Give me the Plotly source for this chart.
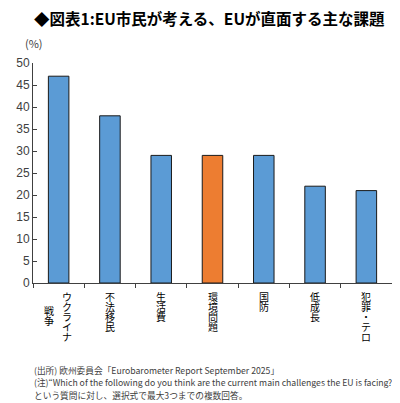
import plotly.graph_objects as go

# データ
categories = ["ウクライナ戦争", "不法移民", "生活費", "環境問題", "国防", "低成長", "犯罪・テロ"]
values = [47, 38, 29, 29, 29, 22, 21]
bar_colors = ["#5B9BD5", "#5B9BD5", "#5B9BD5", "#ED7D31", "#5B9BD5", "#5B9BD5", "#5B9BD5"]
# 縦書きラベル（右の列から順に）
label_columns = [["ウクライナ", "戦争"], ["不法移民"], ["生活費"], ["環境問題"],
                 ["国防"], ["低成長"], ["犯罪・テロ"]]
y_ticks = [0, 5, 10, 15, 20, 25, 30, 35, 40, 45, 50]

title = "<b>◆図表1:EU市民が考える、EUが直面する主な課題</b>"
notes = [
    "(出所) 欧州委員会「Eurobarometer Report September 2025」",
    "(注)“Which of the following do you think are the current main challenges the EU is facing?”",
    "という質問に対し、選択式で最大3つまでの複数回答。",
]

JP = "Noto Sans CJK JP"

# ページ本体の余白(8px)を差し引いたサイズ
W, H = 392, 395
L, R, T, B = 23, 8, 55, 120
PW, PH = W - L - R, H - T - B


def px(x, y):
    """ページ上のピクセル位置(基準画像)を paper 座標へ"""
    return (x - 8 - L) / PW, 1 - (y - 8 - T) / PH


fig = go.Figure()
fig.add_bar(
    x=categories, y=values, width=0.4,
    marker=dict(color=bar_colors, line=dict(color="#1a1a1a", width=1)),
)

# 縦書きのカテゴリラベル（1文字ずつ）
for cat, cols in zip(categories, label_columns):
    offsets = [(0, 0)] if len(cols) == 1 else [(8.5, 0), (-10, 14)]
    for (dx, dy), text in zip(offsets, cols):
        for i, ch in enumerate(text):
            fig.add_annotation(
                x=cat, xref="x", y=0, yref="paper", text=ch, showarrow=False,
                xanchor="center", yanchor="middle", xshift=dx,
                yshift=-(13.5 + dy + 10 * i),
                font=dict(family=JP, size=10, color="#000000"),
            )

# タイトル（上端で切れないよう少し下げる）
tx, ty = px(208, 17.5)
fig.add_annotation(
    x=tx, xref="paper", y=ty, yref="paper", text=title, showarrow=False,
    xanchor="center", yanchor="middle",
    font=dict(family=JP, size=15.5, color="#000000"),
)
# 単位
ux, uy = px(32, 43)
fig.add_annotation(
    x=ux, xref="paper", y=uy, yref="paper", text="(%)", showarrow=False,
    xanchor="center", yanchor="middle",
    font=dict(family=JP, size=11, color="#404040"),
)
# 注記
for k, line in enumerate(notes):
    nx, ny = px(30, 370 + 12.5 * k)
    fig.add_annotation(
        x=nx, xref="paper", y=ny, yref="paper", text=line, showarrow=False,
        xanchor="left", yanchor="middle",
        font=dict(family=JP, size=8.7, color="#404040"),
    )

fig.update_layout(
    width=W, height=H,
    margin=dict(l=L, r=R, t=T, b=B),
    plot_bgcolor="white", paper_bgcolor="white",
    showlegend=False,
    font=dict(family=JP, color="#404040"),
    xaxis=dict(
        type="category", range=[-0.5, 6.5], tickson="boundaries",
        ticks="outside", ticklen=4, tickcolor="#404040",
        showline=True, linecolor="#404040", linewidth=1,
        showticklabels=False, showgrid=False,
    ),
    yaxis=dict(
        range=[0, 50], tickvals=y_ticks, ticks="inside", ticklen=4,
        tickcolor="#404040", showline=True, linecolor="#404040", linewidth=1,
        showgrid=False, zeroline=False,
        tickfont=dict(family="Liberation Sans", size=12, color="#404040"),
    ),
)

fig.write_html("out.html")
